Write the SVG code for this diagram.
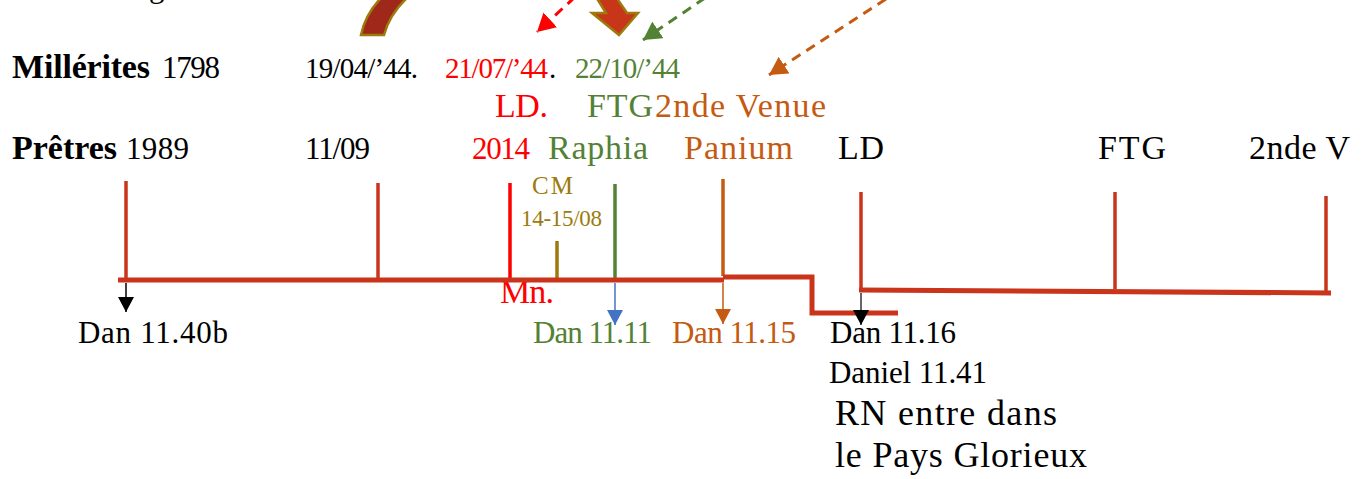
<svg xmlns="http://www.w3.org/2000/svg" width="1362" height="479" viewBox="0 0 1362 479">
<style>
text{font-family:"Liberation Serif","DejaVu Serif",serif;font-size:34px;fill:#000}
.b{font-weight:bold}
.d{font-size:29px}
.n{font-size:31px}
.lo{font-size:31px}
.big{font-size:36px}
.red{fill:#ff0000}.grn{fill:#548235}.org{fill:#c55a11}.olv{fill:#9c7a0c}
.tick{stroke:#c9341b;stroke-width:3.5;fill:none}
.main{stroke:#c9341b;stroke-width:5;fill:none}
.dash{stroke-width:3;stroke-dasharray:10 7;fill:none}
</style>
<defs>
<marker id="mk" markerUnits="userSpaceOnUse" markerWidth="16" markerHeight="16" refX="15" refY="8" orient="auto"><path d="M0,0 L15,8 L0,16 z" fill="#000"/></marker>
<marker id="mb" markerUnits="userSpaceOnUse" markerWidth="16" markerHeight="16" refX="15" refY="8" orient="auto"><path d="M0,0 L15,8 L0,16 z" fill="#4472c4"/></marker>
<marker id="mo" markerUnits="userSpaceOnUse" markerWidth="16" markerHeight="16" refX="15" refY="8" orient="auto"><path d="M0,0 L15,8 L0,16 z" fill="#c55a11"/></marker>
<marker id="mr" markerUnits="userSpaceOnUse" markerWidth="20" markerHeight="20" refX="18" refY="10" orient="auto"><path d="M0,0 L18,10 L0,20 z" fill="#ff0000"/></marker>
<marker id="mg" markerUnits="userSpaceOnUse" markerWidth="20" markerHeight="20" refX="18" refY="10" orient="auto"><path d="M0,0 L18,10 L0,20 z" fill="#548235"/></marker>
<marker id="mo2" markerUnits="userSpaceOnUse" markerWidth="20" markerHeight="20" refX="18" refY="10" orient="auto"><path d="M0,0 L18,10 L0,20 z" fill="#c55a11"/></marker>
</defs>

<g id="fragment-top"><text x="149" y="-3" class="n">g</text></g>

<g id="label-millerites"><text x="12" y="78" class="b" textLength="138">Millérites</text><text x="162" y="78" class="n" textLength="58">1798</text></g>
<g id="date-1904"><text x="305" y="78" class="d" textLength="113">19/04/’44.</text></g>
<g id="date-2107"><text x="445" y="78" class="red d" textLength="103">21/07/’44</text><text x="549" y="78" class="d">.</text></g>
<g id="date-2210"><text x="575" y="78" class="grn d" textLength="105">22/10/’44</text></g>
<g id="label-ld-red"><text x="495" y="117" class="red" textLength="53">LD.</text></g>
<g id="label-ftg-green"><text x="587" y="117" class="grn" textLength="66">FTG</text></g>
<g id="label-2nde-venue"><text x="655" y="117" class="org" textLength="171">2nde Venue</text></g>

<g id="label-pretres"><text x="12" y="159" class="b" textLength="105">Prêtres</text><text x="126" y="159" class="n" textLength="63">1989</text></g>
<g id="node-1989"><line class="tick" x1="126" y1="181" x2="126" y2="280"/></g>
<g id="node-1109"><text x="305" y="159" class="n" textLength="65">11/09</text><line class="tick" x1="378" y1="183" x2="378" y2="280"/></g>
<g id="node-2014"><text x="472" y="159" class="red n" textLength="58">2014</text><line x1="510" y1="183" x2="510" y2="280" stroke="#ff0000" stroke-width="3.5"/><text x="500" y="303" class="red" textLength="54">Mn.</text></g>
<g id="node-cm"><text x="532" y="194" class="olv" style="font-size:25px" textLength="41">CM</text><text x="521" y="226" class="olv" style="font-size:23px" textLength="81">14-15/08</text><line x1="557" y1="241" x2="557" y2="280" stroke="#9c7a0c" stroke-width="3.5"/></g>
<g id="node-raphia"><text x="548" y="159" class="grn" textLength="100">Raphia</text><line x1="615" y1="184" x2="615" y2="280" stroke="#548235" stroke-width="3.5"/></g>
<g id="node-panium"><text x="684" y="159" class="org" textLength="109">Panium</text><line x1="723" y1="179" x2="723" y2="276" stroke="#c55a11" stroke-width="3.5"/></g>
<g id="node-ld"><text x="838" y="159" textLength="46">LD</text><line class="tick" x1="861" y1="192" x2="861" y2="290"/></g>
<g id="node-ftg"><text x="1098" y="159" textLength="68">FTG</text><line class="tick" x1="1115" y1="192" x2="1115" y2="289"/></g>
<g id="node-2ndev"><text x="1249" y="159" textLength="101">2nde V</text><line class="tick" x1="1326" y1="196" x2="1326" y2="293"/></g>

<g id="timeline">
<line class="main" x1="118" y1="280" x2="724" y2="280"/>
<polyline class="main" points="723,277 812,277 812,313 898,313"/>
<line class="main" x1="859" y1="290" x2="1331" y2="293"/>
</g>

<g id="label-dan1140b"><text x="78" y="343" class="lo" textLength="150">Dan 11.40b</text></g>
<g id="label-dan1111"><text x="533" y="343" class="grn lo" textLength="119">Dan 11.11</text></g>
<g id="label-dan1115"><text x="672" y="343" class="org lo" textLength="124">Dan 11.15</text></g>
<g id="label-dan1116"><text x="830" y="343" class="lo" textLength="126">Dan 11.16</text></g>
<g id="label-daniel1141"><text x="829" y="383" class="lo" textLength="158">Daniel 11.41</text></g>
<g id="label-rn"><text x="835" y="425" class="big" textLength="222">RN entre dans</text></g>
<g id="label-pays"><text x="835" y="467" class="big" textLength="252">le Pays Glorieux</text></g>

<g id="connectors">
<line x1="126" y1="283" x2="126" y2="312" stroke="#000" stroke-width="1.5" marker-end="url(#mk)"/>
<line x1="615" y1="283" x2="615" y2="325" stroke="#4472c4" stroke-width="1.5" marker-end="url(#mb)"/>
<line x1="723" y1="283" x2="723" y2="324" stroke="#c55a11" stroke-width="1.5" marker-end="url(#mo)"/>
<line x1="861" y1="293" x2="861" y2="325" stroke="#333" stroke-width="1.5" marker-end="url(#mk)"/>
<line class="dash" x1="575" y1="-3" x2="537" y2="32" stroke="#ff0000" marker-end="url(#mr)"/>
<line class="dash" x1="705" y1="-2" x2="643" y2="40" stroke="#548235" marker-end="url(#mg)"/>
<line class="dash" x1="886" y1="-1" x2="769" y2="75" stroke="#c55a11" marker-end="url(#mo2)"/>
<path d="M361,35 L384,35 C388,20 396,8 408,-3 L382,-3 C371,8 364,20 361,35 z" fill="#a0281a" stroke="#9c7a0c" stroke-width="2.5"/>
<path d="M596,-3 L616,-3 L627,13 L638,13 L619,35 L592,13 L606,13 z" fill="#c8361a" stroke="#9c7a0c" stroke-width="2.5"/>
</g>
</svg>
